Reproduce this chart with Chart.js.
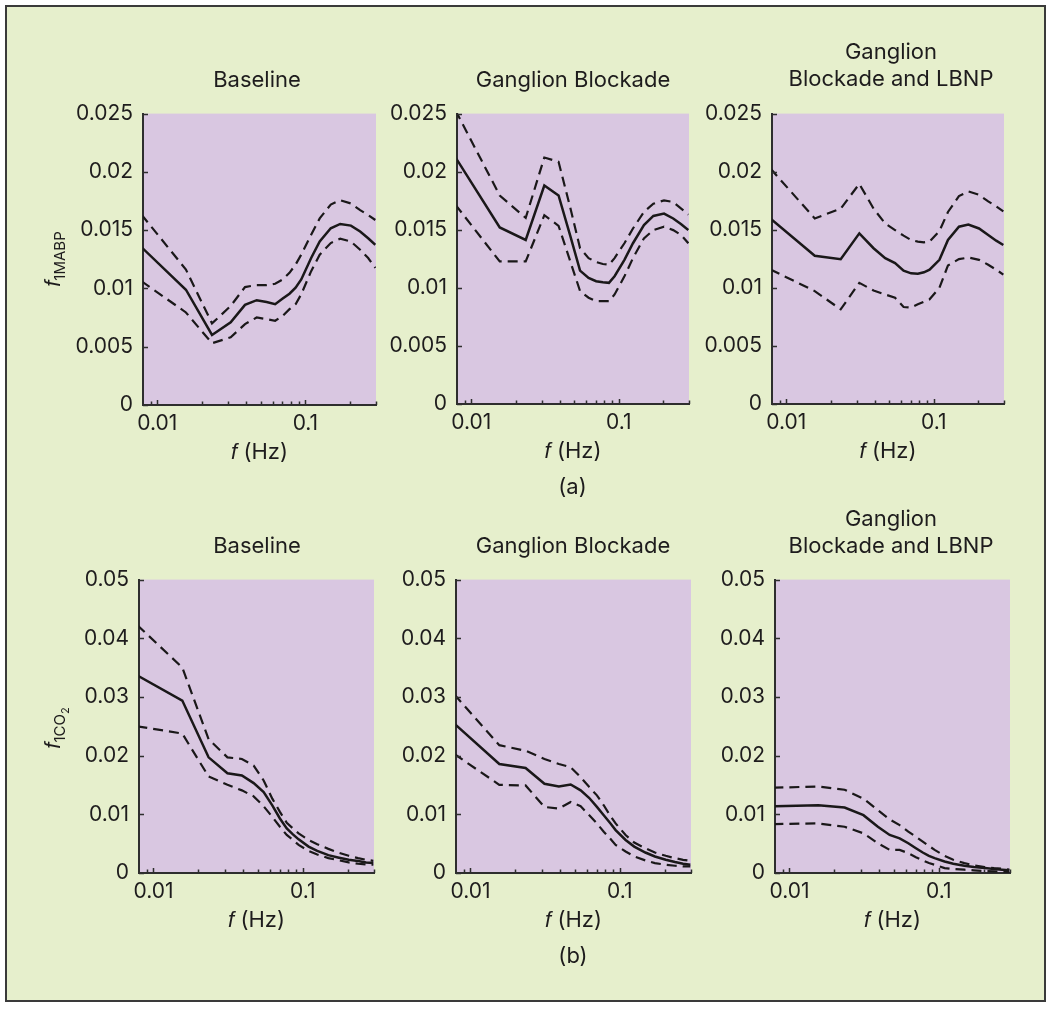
<!DOCTYPE html>
<html><head><meta charset="utf-8">
<script src="https://cdn.jsdelivr.net/npm/chart.js@4.4.1/dist/chart.umd.min.js"></script>
<style>
html,body{margin:0;padding:0;background:#fff;width:1050px;height:1010px;overflow:hidden;}
body{position:relative;font-family:Inter,"Liberation Sans",Arial,sans-serif;color:#1e1c1d;}
#frame{position:absolute;left:5px;top:5px;width:1041px;height:997px;box-sizing:border-box;border:2px solid #3a3a3a;background:#e6efcc;}
canvas{position:absolute;}
.t{position:absolute;white-space:nowrap;text-align:center;font-size:22px;line-height:27.7px;width:300px;}
.xl{position:absolute;white-space:nowrap;text-align:center;font-size:22px;line-height:26px;width:120px;}
.yl{position:absolute;white-space:nowrap;text-align:center;font-size:22px;line-height:26px;width:120px;transform:rotate(-90deg);transform-origin:0 0;}
.it{font-family:"Liberation Sans",Arial,sans-serif;font-style:italic;}
.sub{font-size:15px;position:relative;top:5px;}
.sub2{font-size:11px;position:relative;top:4px;}
</style></head>
<body>
<div id="frame"></div>
<script>
// ---------- data ----------
const freqHz = [0.0078, 0.0156, 0.0234, 0.0313, 0.0391, 0.0469, 0.0547, 0.0625, 0.0703, 0.0781, 0.0859, 0.0938, 0.1094, 0.125, 0.1484, 0.1719, 0.2031, 0.2344, 0.2656, 0.2969];
const xTickValues = [0.009, 0.01, 0.02, 0.03, 0.04, 0.05, 0.06, 0.07, 0.08, 0.09, 0.1, 0.2, 0.3];
const xTickLabels = {"0.01": "0.01", "0.1": "0.1"};
const yTicksMABP = [0, 0.005, 0.01, 0.015, 0.02, 0.025];
const yLabelsMABP = ["0", "0.005", "0.01", "0.015", "0.02", "0.025"];
const yTicksCO2 = [0, 0.01, 0.02, 0.03, 0.04, 0.05];
const yLabelsCO2 = ["0", "0.01", "0.02", "0.03", "0.04", "0.05"];

// (a) MABP
const mabpBaseMean  = [0.01355, 0.00989, 0.00601, 0.00709, 0.00859, 0.00899, 0.00884, 0.00865, 0.00913, 0.00955, 0.01006, 0.01077, 0.01261, 0.01403, 0.01516, 0.01553, 0.01539, 0.01488, 0.01431, 0.01375];
const mabpBaseUpper = [0.01635, 0.01162, 0.00700, 0.00850, 0.01012, 0.01029, 0.01029, 0.01040, 0.01077, 0.01134, 0.01205, 0.01290, 0.01460, 0.01601, 0.01720, 0.01757, 0.01729, 0.01672, 0.01630, 0.01587];
const mabpBaseLower = [0.01063, 0.00794, 0.00530, 0.00581, 0.00694, 0.00751, 0.00737, 0.00723, 0.00765, 0.00822, 0.00865, 0.00950, 0.01148, 0.01290, 0.01389, 0.01426, 0.01403, 0.01332, 0.01261, 0.01176];

const mabpGBMean  = [0.02125, 0.01520, 0.01412, 0.01881, 0.01795, 0.01450, 0.01148, 0.01085, 0.01057, 0.01048, 0.01043, 0.01100, 0.01241, 0.01384, 0.01540, 0.01619, 0.01639, 0.01597, 0.01548, 0.01497];
const mabpGBUpper = [0.02530, 0.01795, 0.01602, 0.02122, 0.02085, 0.01693, 0.01341, 0.01256, 0.01222, 0.01205, 0.01199, 0.01256, 0.01384, 0.01511, 0.01653, 0.01724, 0.01753, 0.01739, 0.01682, 0.01631];
const mabpGBLower = [0.01716, 0.01227, 0.01227, 0.01625, 0.01534, 0.01230, 0.00972, 0.00915, 0.00886, 0.00886, 0.00886, 0.00943, 0.01099, 0.01256, 0.01426, 0.01497, 0.01526, 0.01497, 0.01455, 0.01384];

const mabpLBNPMean  = [0.01597, 0.01276, 0.01247, 0.01469, 0.01341, 0.01256, 0.01213, 0.01148, 0.01125, 0.01122, 0.01134, 0.01156, 0.01241, 0.01412, 0.01526, 0.01545, 0.01511, 0.01455, 0.01406, 0.01369];
const mabpLBNPUpper = [0.02028, 0.01597, 0.01682, 0.01895, 0.01682, 0.01554, 0.01497, 0.01449, 0.01412, 0.01398, 0.01392, 0.01398, 0.01489, 0.01653, 0.01790, 0.01830, 0.01801, 0.01744, 0.01702, 0.01659];
const mabpLBNPLower = [0.01159, 0.00972, 0.00815, 0.01043, 0.00977, 0.00943, 0.00915, 0.00835, 0.00830, 0.00858, 0.00881, 0.00901, 0.01000, 0.01193, 0.01247, 0.01261, 0.01241, 0.01199, 0.01156, 0.01114];

// (b) CO2
const co2BaseMean  = [0.03367, 0.02939, 0.01971, 0.01700, 0.01661, 0.01532, 0.01380, 0.01154, 0.00929, 0.00760, 0.00659, 0.00574, 0.00450, 0.00377, 0.00304, 0.00265, 0.00225, 0.00203, 0.00180, 0.00169];
const co2BaseUpper = [0.04223, 0.03502, 0.02280, 0.01971, 0.01943, 0.01830, 0.01577, 0.01267, 0.01042, 0.00856, 0.00760, 0.00676, 0.00563, 0.00490, 0.00411, 0.00349, 0.00293, 0.00253, 0.00225, 0.00208];
const co2BaseLower = [0.02500, 0.02376, 0.01644, 0.01503, 0.01408, 0.01306, 0.01137, 0.00957, 0.00788, 0.00648, 0.00563, 0.00479, 0.00377, 0.00315, 0.00253, 0.00220, 0.00180, 0.00158, 0.00146, 0.00141];

const co2GBMean  = [0.02545, 0.01858, 0.01790, 0.01520, 0.01475, 0.01509, 0.01408, 0.01278, 0.01126, 0.00985, 0.00856, 0.00732, 0.00563, 0.00450, 0.00349, 0.00282, 0.00225, 0.00186, 0.00158, 0.00141];
const co2GBUpper = [0.03040, 0.02179, 0.02083, 0.01943, 0.01858, 0.01802, 0.01633, 0.01464, 0.01323, 0.01154, 0.00985, 0.00845, 0.00648, 0.00518, 0.00422, 0.00349, 0.00293, 0.00253, 0.00225, 0.00208];
const co2GBLower = [0.02027, 0.01503, 0.01492, 0.01126, 0.01098, 0.01211, 0.01137, 0.00985, 0.00845, 0.00704, 0.00591, 0.00479, 0.00366, 0.00282, 0.00214, 0.00169, 0.00141, 0.00124, 0.00113, 0.00113];

const co2LBNPMean  = [0.01137, 0.01154, 0.01115, 0.00985, 0.00788, 0.00648, 0.00591, 0.00507, 0.00422, 0.00349, 0.00293, 0.00253, 0.00197, 0.00158, 0.00124, 0.00101, 0.00084, 0.00068, 0.00056, 0.00045];
const co2LBNPUpper = [0.01453, 0.01475, 0.01419, 0.01267, 0.01070, 0.00912, 0.00816, 0.00704, 0.00619, 0.00535, 0.00462, 0.00394, 0.00293, 0.00225, 0.00169, 0.00130, 0.00101, 0.00084, 0.00073, 0.00056];
const co2LBNPLower = [0.00833, 0.00845, 0.00788, 0.00676, 0.00507, 0.00394, 0.00394, 0.00338, 0.00270, 0.00214, 0.00169, 0.00141, 0.00084, 0.00068, 0.00056, 0.00045, 0.00034, 0.00028, 0.00023, 0.00017];

// ---------- layout / style ----------
const PLOT_BG = '#d9c7e1';
const INK = '#1a1819';
const AXW = 80, PADT = 20, PADR = 12, AXH = 40;

const panels = [
  {l:143, t:111, r:376, b:405, title:['Baseline'], tb:88.3, tcx:257, yt:yTicksMABP, yl:yLabelsMABP, ymax:0.025, s:[mabpBaseMean, mabpBaseUpper, mabpBaseLower]},
  {l:457, t:111, r:689, b:404, title:['Ganglion Blockade'], tb:88.3, tcx:573, yt:yTicksMABP, yl:yLabelsMABP, ymax:0.025, s:[mabpGBMean, mabpGBUpper, mabpGBLower]},
  {l:772, t:111, r:1004, b:404, title:['Ganglion','Blockade and LBNP'], tb:87.3, tcx:891, yt:yTicksMABP, yl:yLabelsMABP, ymax:0.025, s:[mabpLBNPMean, mabpLBNPUpper, mabpLBNPLower]},
  {l:139, t:577, r:374, b:873, title:['Baseline'], tb:554.3, tcx:257, yt:yTicksCO2, yl:yLabelsCO2, ymax:0.05, s:[co2BaseMean, co2BaseUpper, co2BaseLower]},
  {l:456, t:577, r:691, b:873, title:['Ganglion Blockade'], tb:554.3, tcx:573, yt:yTicksCO2, yl:yLabelsCO2, ymax:0.05, s:[co2GBMean, co2GBUpper, co2GBLower]},
  {l:775, t:577, r:1010, b:873, title:['Ganglion','Blockade and LBNP'], tb:554.3, tcx:891, yt:yTicksCO2, yl:yLabelsCO2, ymax:0.05, s:[co2LBNPMean, co2LBNPUpper, co2LBNPLower]}
];

Chart.defaults.font.family = 'Inter, "Liberation Sans", Arial, sans-serif';
Chart.defaults.font.size = 21;
Chart.defaults.color = '#1e1c1d';

const decor = {
  id: 'decor',
  beforeDraw(chart) {
    const {ctx, chartArea: a} = chart;
    ctx.save();
    ctx.fillStyle = PLOT_BG;
    ctx.fillRect(a.left, a.top, a.right - a.left, a.bottom - a.top);
    ctx.restore();
  },
  afterDraw(chart) {
    const {ctx, chartArea: a, scales} = chart;
    ctx.save();
    ctx.strokeStyle = '#2e2e2e';
    ctx.lineWidth = 1.5;
    ctx.beginPath();
    scales.y.ticks.forEach(t => {
      const py = Math.round(scales.y.getPixelForValue(t.value)) + 0.5;
      ctx.moveTo(a.left, py); ctx.lineTo(a.left + 5, py);
    });
    scales.x.ticks.forEach(t => {
      const px = Math.round(scales.x.getPixelForValue(t.value)) + 0.5;
      const major = xTickLabels[String(t.value)] !== undefined;
      ctx.moveTo(px, a.bottom); ctx.lineTo(px, a.bottom - (major ? 5 : 3.5));
    });
    ctx.stroke();
    ctx.restore();
  }
};

function addDiv(cls, left, top, html) {
  const d = document.createElement('div');
  d.className = cls;
  d.style.left = left + 'px';
  d.style.top = top + 'px';
  d.innerHTML = html;
  document.body.appendChild(d);
  return d;
}

panels.forEach((p, i) => {
  const cw = (p.r - p.l) + AXW + PADR;
  const ch = (p.b - p.t) + PADT + AXH;
  const cv = document.createElement('canvas');
  cv.width = cw; cv.height = ch;
  cv.style.left = (p.l - AXW) + 'px';
  cv.style.top = (p.t - PADT) + 'px';
  cv.style.width = cw + 'px'; cv.style.height = ch + 'px';
  document.body.appendChild(cv);

  const mk = (arr) => freqHz.map((f, k) => ({x: f, y: arr[k]}));
  new Chart(cv, {
    type: 'line',
    data: {
      datasets: [
        {label: 'mean', data: mk(p.s[0]), borderColor: INK, borderWidth: 2.5, pointRadius: 0, tension: 0, fill: false},
        {label: 'upper', data: mk(p.s[1]), borderColor: INK, borderWidth: 2.2, borderDash: [10, 6], pointRadius: 0, tension: 0, fill: false},
        {label: 'lower', data: mk(p.s[2]), borderColor: INK, borderWidth: 2.2, borderDash: [10, 6], pointRadius: 0, tension: 0, fill: false}
      ]
    },
    options: {
      responsive: false, animation: false, devicePixelRatio: 1,
      layout: {padding: {top: PADT, right: PADR, left: 0, bottom: 0}},
      plugins: {legend: {display: false}, tooltip: {enabled: false}, title: {display: false}},
      events: [],
      scales: {
        x: {
          type: 'logarithmic', min: 0.008, max: 0.3,
          grid: {display: false, drawTicks: false},
          border: {display: true, color: '#2e2e2e', width: 2},
          afterBuildTicks: (sc) => { sc.ticks = xTickValues.map(v => ({value: v})); },
          afterFit: (sc) => { sc.height = AXH; },
          ticks: {autoSkip: false, maxRotation: 0, minRotation: 0, padding: 6,
                  callback: (v) => xTickLabels[String(v)] || ''}
        },
        y: {
          type: 'linear', min: 0, max: p.ymax,
          grid: {display: false, drawTicks: false},
          border: {display: true, color: '#2e2e2e', width: 2},
          afterBuildTicks: (sc) => { sc.ticks = p.yt.map(v => ({value: v})); },
          afterFit: (sc) => { sc.width = AXW; },
          ticks: {autoSkip: false, padding: 10,
                  callback: (v, idx) => p.yl[idx]}
        }
      }
    },
    plugins: [decor]
  });

  const nLines = p.title.length;
  const titleTop = p.tb - 21.9 - (nLines - 1) * 27.7;
  addDiv('t', p.tcx - 150, titleTop, p.title.join('<br>'));
  const cx = (p.l + p.r) / 2;
  addDiv('xl', cx - 60, p.b + 32.5, '<span class="it">f</span> (Hz)');
});

addDiv('xl', 572.5 - 60, 472.5, '(a)');
addDiv('xl', 573 - 60, 941.5, '(b)');
addDiv('yl', 38.5, 319, '<span class="it">f</span><span class="sub">1MABP</span>');
addDiv('yl', 38.5, 787.5, '<span class="it">f</span><span class="sub">1CO<span class="sub2">2</span></span>');
</script>
</body></html>
